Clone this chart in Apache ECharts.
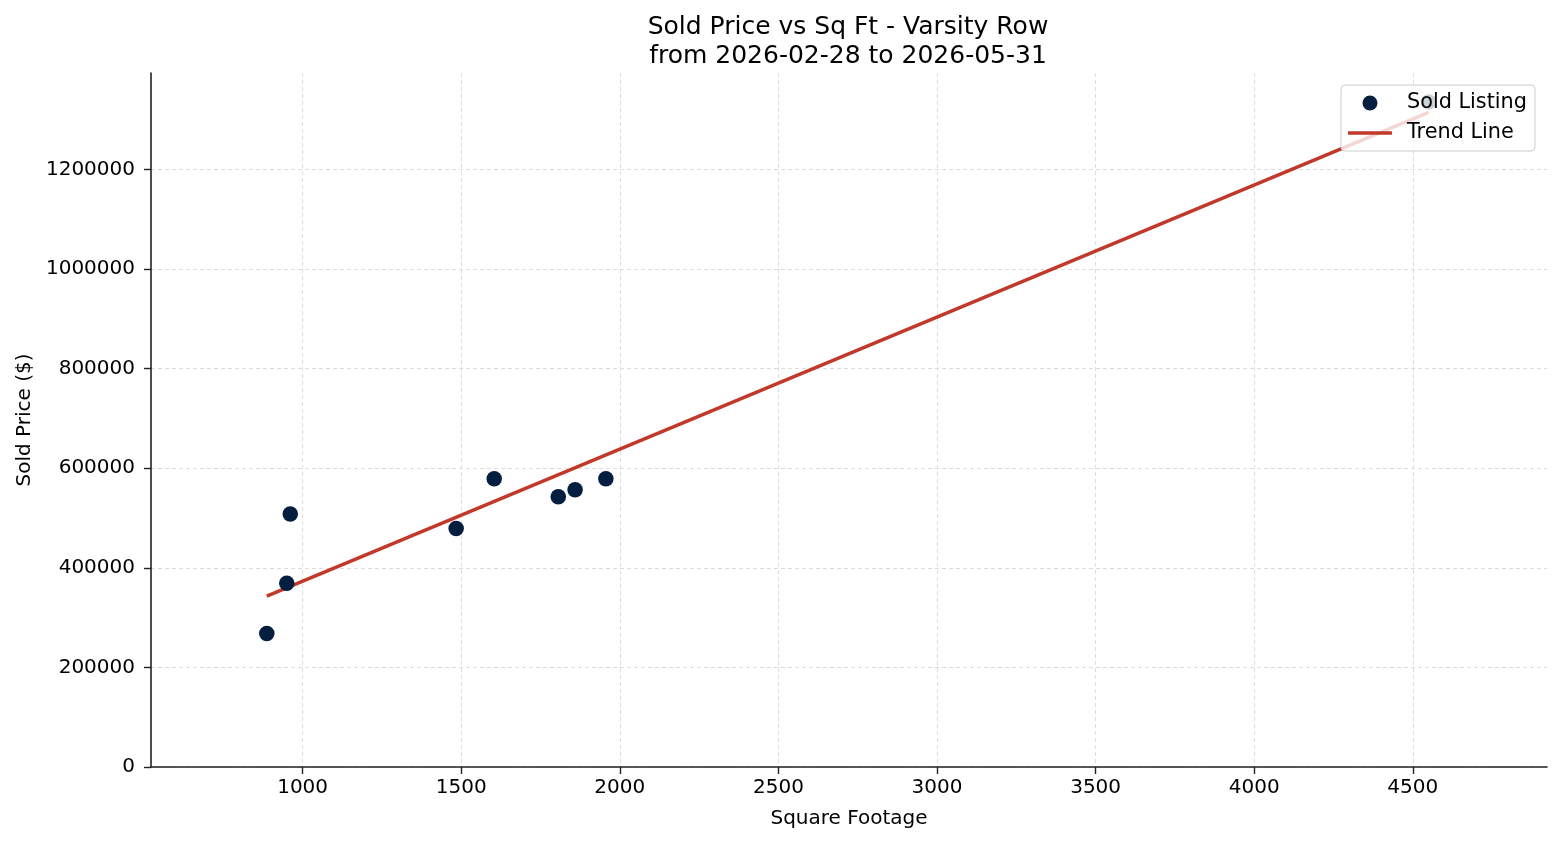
<!DOCTYPE html>
<html>
<head>
<meta charset="utf-8">
<title>Sold Price vs Sq Ft</title>
<script src="https://cdn.jsdelivr.net/npm/echarts@6/dist/echarts.min.js"></script>
<style>
  html, body { margin: 0; padding: 0; background: #fff; }
  #chart { width: 1560px; height: 845px; }
</style>
</head>
<body>
<div id="chart"></div>
<script>
// sold listings
var sqft  = [887, 950, 961, 1484, 1604, 1806, 1859, 1956, 4550];
var price = [268000, 369000, 508000, 479000, 579000, 543000, 557000, 579000, 1336000];
// trend line end points
var trendX = [887, 4550];
var trendY = [343000, 1315000];
// tick labels
var xTicks = [1000, 1500, 2000, 2500, 3000, 3500, 4000, 4500];
var yTicks = [0, 200000, 400000, 600000, 800000, 1000000, 1200000];

var font = 'DejaVu Sans';
var scatterData = sqft.map(function (x, i) { return [x, price[i]]; });
var trendData = trendX.map(function (x, i) { return [x, trendY[i]]; });

var myChart = echarts.init(document.getElementById('chart'));

var axisCommon = {
  axisLine: { show: true, lineStyle: { color: '#222', width: 1.6 } },
  axisTick: { show: true, inside: false, length: 7, lineStyle: { color: '#222', width: 1.4 } },
  splitLine: { show: true, lineStyle: { color: '#d9d9d9', width: 0.9, type: [4, 3] } },
  nameTextStyle: { fontFamily: font, fontSize: 20, color: '#000' }
};

// plain numbers, no thousands separator
function plain(v) { return String(v); }

var option = {
  animation: false,
  backgroundColor: '#fff',
  title: {
    text: 'Sold Price vs Sq Ft - Varsity Row\nfrom 2026-02-28 to 2026-05-31',
    left: 843,
    top: 8,
    textAlign: 'center',
    textStyle: { fontFamily: font, fontSize: 25, fontWeight: 'normal', color: '#000', lineHeight: 29 }
  },
  grid: { left: 151, right: 13, top: 73, bottom: 78, containLabel: false, outerBoundsMode: 'none' },
  legend: {
    orient: 'vertical',
    right: 25,
    top: 85,
    align: 'left',
    padding: [6, 8, 6, 7],
    itemGap: 6,
    itemWidth: 44,
    itemHeight: 15,
    backgroundColor: 'rgba(255,255,255,0.8)',
    borderColor: '#cccccc',
    borderWidth: 1,
    borderRadius: 4,
    textStyle: { fontFamily: font, fontSize: 20.8, color: '#000', lineHeight: 24, padding: [0, 0, 0, 10] },
    data: [
      { name: 'Sold Listing', icon: 'circle' },
      { name: 'Trend Line', icon: 'path://M0,0L44,0L44,3.5L0,3.5Z' }
    ]
  },
  xAxis: Object.assign({}, axisCommon, {
    type: 'value',
    min: 522,
    max: 4923,
    name: 'Square Footage',
    nameLocation: 'middle',
    nameGap: 42,
    axisTick: Object.assign({}, axisCommon.axisTick, { customValues: xTicks }),
    axisLabel: { customValues: xTicks, formatter: plain, margin: 11, fontFamily: font, fontSize: 20, color: '#000' }
  }),
  yAxis: Object.assign({}, axisCommon, {
    type: 'value',
    min: 0,
    max: 1394000,
    name: 'Sold Price ($)',
    nameLocation: 'middle',
    nameGap: 115,
    axisTick: Object.assign({}, axisCommon.axisTick, { customValues: yTicks }),
    axisLabel: { customValues: yTicks, formatter: plain, margin: 16, fontFamily: font, fontSize: 20, color: '#000' }
  }),
  series: [
    {
      name: 'Sold Listing',
      type: 'scatter',
      symbol: 'circle',
      symbolSize: 15.5,
      itemStyle: { color: '#041e3f', opacity: 1 },
      data: scatterData,
      z: 3
    },
    {
      name: 'Trend Line',
      type: 'line',
      symbol: 'none',
      showSymbol: false,
      lineStyle: { color: '#c0392b', width: 3.5 },
      itemStyle: { color: '#c0392b' },
      data: trendData,
      z: 2
    }
  ]
};

myChart.setOption(option);
</script>
</body>
</html>
